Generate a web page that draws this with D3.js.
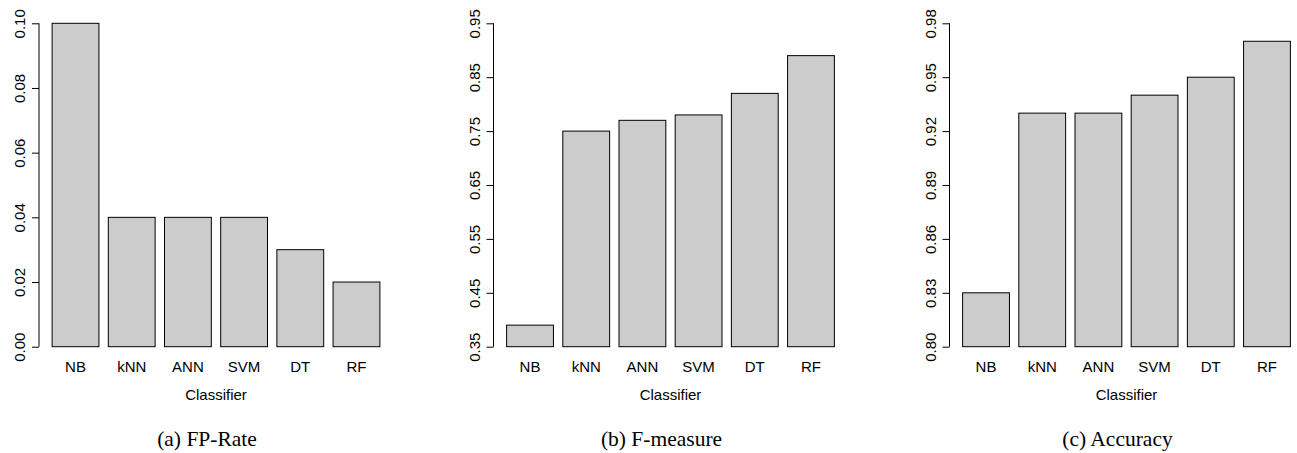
<!DOCTYPE html>
<html>
<head>
<meta charset="utf-8">
<script src="https://cdn.jsdelivr.net/npm/d3@7"></script>
<style>
  body { margin: 0; background: #fff; }
  svg { display: block; }
</style>
</head>
<body>
<div class="chart"></div>
<script>
// data
const categories = ["NB", "kNN", "ANN", "SVM", "DT", "RF"];
const fpRate   = [0.10, 0.04, 0.04, 0.04, 0.03, 0.02];
const fMeasure = [0.39, 0.75, 0.77, 0.78, 0.82, 0.89];
const accuracy = [0.83, 0.93, 0.93, 0.94, 0.95, 0.97];
const fpTicks  = [0.00, 0.02, 0.04, 0.06, 0.08, 0.10];
const fmTicks  = [0.35, 0.45, 0.55, 0.65, 0.75, 0.85, 0.95];
const accTicks = [0.80, 0.83, 0.86, 0.89, 0.92, 0.95, 0.98];
const captions = ["(a) FP-Rate", "(b) F-measure", "(c) Accuracy"];
const xTitle = "Classifier";

const width = 1297, height = 453;
const plotTop = 23.3, plotBottom = 346.7;
const plotW = 354;
const lefts = [39, 493.5, 949.5];

const svg = d3.select(".chart").append("svg")
    .attr("width", width)
    .attr("height", height)
    .style("font-family", "'Liberation Sans', Arial, sans-serif");

const panels = [
  {values: fpRate, ticks: fpTicks, caption: captions[0]},
  {values: fMeasure, ticks: fmTicks, caption: captions[1]},
  {values: accuracy, ticks: accTicks, caption: captions[2]}
];

panels.forEach((p, k) => {
  const left = lefts[k];
  const g = svg.append("g");

  const x = d3.scaleBand()
      .domain(categories)
      .range([left, left + plotW])
      .paddingInner(1 / 6)
      .paddingOuter(0.2333);

  const y = d3.scaleLinear()
      .domain([p.ticks[0], p.ticks[p.ticks.length - 1]])
      .range([plotBottom, plotTop]);

  // bars
  g.selectAll("rect")
      .data(p.values)
      .join("rect")
      .attr("x", (d, i) => x(categories[i]))
      .attr("y", d => y(d))
      .attr("width", x.bandwidth())
      .attr("height", d => y(p.ticks[0]) - y(d))
      .attr("fill", "#cccccc")
      .attr("stroke", "#000")
      .attr("stroke-width", 1);

  // y axis
  const yAxis = g.append("g")
      .attr("transform", `translate(${left},0)`)
      .call(d3.axisLeft(y).tickValues(p.ticks).tickSize(7).tickFormat(d3.format(".2f")));
  yAxis.select(".domain").remove();
  yAxis.append("line")
      .attr("y1", y(p.ticks[0]))
      .attr("y2", y(p.ticks[p.ticks.length - 1]))
      .attr("stroke", "#000");
  yAxis.selectAll(".tick line").attr("stroke", "#000");
  yAxis.selectAll(".tick text")
      .attr("transform", "rotate(-90)")
      .attr("x", 0)
      .attr("y", -14)
      .attr("dy", 0)
      .attr("text-anchor", "middle")
      .attr("fill", "#000")
      .style("font-size", "15px")
      .style("font-family", "'Liberation Sans', Arial, sans-serif");

  // category labels
  g.selectAll("text.cat")
      .data(categories)
      .join("text")
      .attr("class", "cat")
      .attr("x", d => x(d) + x.bandwidth() / 2)
      .attr("y", 372)
      .attr("text-anchor", "middle")
      .style("font-size", "15px")
      .text(d => d);

  g.append("text")
      .attr("x", left + plotW / 2)
      .attr("y", 400)
      .attr("text-anchor", "middle")
      .style("font-size", "15px")
      .text(xTitle);

  g.append("text")
      .attr("x", left + plotW / 2 - 9)
      .attr("y", 446)
      .attr("text-anchor", "middle")
      .style("font-family", "'Liberation Serif', 'Times New Roman', serif")
      .style("font-size", "21.5px")
      .text(p.caption);
});
</script>
</body>
</html>
